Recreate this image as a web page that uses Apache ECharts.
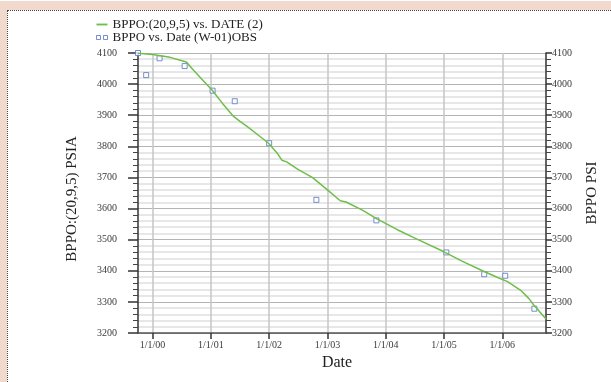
<!DOCTYPE html>
<html>
<head>
<meta charset="utf-8">
<script src="https://cdn.jsdelivr.net/npm/echarts@6/dist/echarts.min.js"></script>
<style>
  html, body { margin: 0; padding: 0; background: #fff; }
  #frame { position: absolute; left: 0; top: 1px; width: 611px; height: 381px; background: #f1d9cd; }
  #inner { position: absolute; left: 7px; top: 9px; right: 0; bottom: 0; background: #fff;
           border-left: 1px dotted #444; border-top: 1px dotted #444; }
  #main { position: absolute; left: 0; top: 0; width: 611px; height: 382px; }
</style>
</head>
<body>
<div id="frame"><div id="inner"></div></div>
<div id="main"></div>
<script>
// 模拟曲线 BPPO:(20,9,5) vs. DATE (2)，日期用小数年表示
const simDates = [
  1999.75, 2000.0, 2000.3, 2000.58, 2000.7, 2000.85, 2001.02, 2001.2, 2001.39, 2001.5,
  2001.62, 2001.8, 2001.99, 2002.15, 2002.22, 2002.3, 2002.5, 2002.74, 2003.0, 2003.22,
  2003.32, 2003.6, 2003.85, 2004.2, 2004.5, 2005.0, 2005.3, 2005.66, 2005.9, 2006.09,
  2006.31, 2006.45, 2006.54, 2006.75
];
const simPressure = [
  4099, 4095, 4086, 4071, 4045, 4015, 3981, 3938, 3896, 3880,
  3864, 3838, 3810, 3775, 3755, 3750, 3725, 3700, 3660, 3625,
  3621, 3595, 3567, 3532, 3505, 3461, 3432, 3400, 3380, 3365,
  3338, 3312, 3290, 3245
];

// 观测点 BPPO vs. Date (W-01)OBS
const obsDates = [
  1999.75, 1999.89, 2000.12, 2000.55, 2001.03, 2001.41, 2002.0,
  2002.81, 2003.84, 2005.04, 2005.69, 2006.05, 2006.55
];
const obsPressure = [
  4100, 4029, 4083, 4058, 3979, 3945, 3810,
  3628, 3562, 3459, 3389, 3384, 3278
];

// x 轴刻度（每年 1 月 1 日）
const yearTicks = [2000, 2001, 2002, 2003, 2004, 2005, 2006];
const yearLabels = ['1/1/00', '1/1/01', '1/1/02', '1/1/03', '1/1/04', '1/1/05', '1/1/06'];

const serif = 'Liberation Serif';
const lineColor = '#6dbe4a';
const obsColor = '#5674c0';

const chart = echarts.init(document.getElementById('main'));

// 公共的 y 轴配置
const yBase = {
  type: 'value',
  min: 3200,
  max: 4100,
  interval: 100,
  nameLocation: 'middle',
  nameRotate: 90,
  nameTextStyle: { fontFamily: serif, fontSize: 15, color: '#222' },
  axisLine: { show: true, lineStyle: { color: '#333', width: 1.5 } },
  axisTick: { show: true, lineStyle: { color: '#333', width: 1.5 } },
  minorTick: { show: true, splitNumber: 5, length: 5, lineStyle: { color: '#444' } },
  axisLabel: { fontFamily: serif, fontSize: 10, color: '#3a3a3a', formatter: (v) => String(v) }
};

const option = {
  animation: false,
  backgroundColor: 'transparent',
  grid: { left: 138, right: 65, top: 53, bottom: 49 },

  // 图例：左上角两行
  legend: {
    orient: 'vertical',
    left: 96,
    top: 18,
    padding: 0,
    itemGap: 0,
    itemWidth: 11,
    itemHeight: 5,
    textStyle: { fontFamily: serif, fontSize: 13, color: '#222', lineHeight: 13 },
    data: [
      {
        name: 'BPPO:(20,9,5) vs. DATE (2)',
        icon: 'path://M0,0H12V2H0Z',
        itemStyle: { color: lineColor }
      },
      {
        name: 'BPPO vs. Date (W-01)OBS',
        icon: 'path://M0,0H4V4H0Z M7,0H11V4H7Z',
        itemStyle: { color: '#fff', borderColor: obsColor, borderWidth: 1 }
      }
    ]
  },

  xAxis: {
    type: 'value',
    min: 1999.75,
    max: 2006.75,
    name: 'Date',
    nameLocation: 'middle',
    nameGap: 19,
    nameTextStyle: { fontFamily: serif, fontSize: 16, color: '#222', padding: [0, 10, 0, 0] },
    axisLine: { lineStyle: { color: '#555', width: 1.5 } },
    axisTick: { customValues: yearTicks, length: 6, lineStyle: { color: '#333', width: 1.5 } },
    axisLabel: {
      customValues: yearTicks,
      fontFamily: serif,
      fontSize: 10,
      color: '#3a3a3a',
      margin: 7,
      formatter: (v) => yearLabels[yearTicks.indexOf(v)]
    },
    splitLine: { show: true, lineStyle: { color: '#c6c6c6', width: 1.5 } }
  },

  yAxis: [
    {
      ...yBase,
      position: 'left',
      name: 'BPPO:(20,9,5) PSIA',
      nameGap: 58,
      nameTextStyle: { ...yBase.nameTextStyle, padding: [0, 12, 0, 0] },
      axisTick: { ...yBase.axisTick, length: 10 },
      axisLabel: { ...yBase.axisLabel, margin: 21 },
      splitLine: { show: true, lineStyle: { color: '#b4b4b4', width: 1 } },
      minorSplitLine: { show: true, lineStyle: { color: '#e0e0e0', width: 1.5 } }
    },
    {
      ...yBase,
      position: 'right',
      name: 'BPPO PSI',
      nameGap: 39,
      axisTick: { ...yBase.axisTick, length: 6 },
      axisLabel: { ...yBase.axisLabel, margin: 6 },
      splitLine: { show: false }
    }
  ],

  series: [
    {
      name: 'BPPO:(20,9,5) vs. DATE (2)',
      type: 'line',
      symbol: 'none',
      lineStyle: { color: lineColor, width: 1.5 },
      itemStyle: { color: lineColor },
      data: simDates.map((d, i) => [d, simPressure[i]])
    },
    {
      name: 'BPPO vs. Date (W-01)OBS',
      type: 'scatter',
      symbol: 'rect',
      symbolSize: 5,
      clip: false,
      itemStyle: { color: '#fff', borderColor: obsColor, borderWidth: 1 },
      data: obsDates.map((d, i) => [d, obsPressure[i]])
    }
  ]
};

chart.setOption(option);
</script>
</body>
</html>
